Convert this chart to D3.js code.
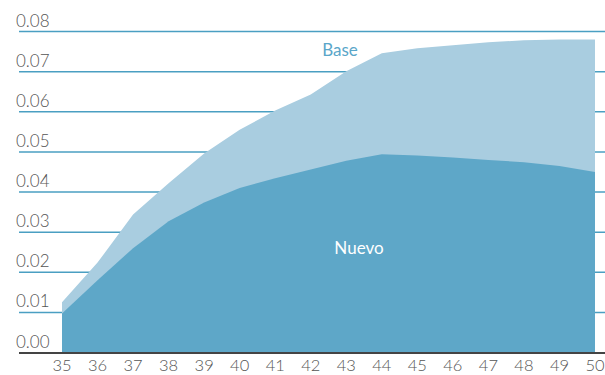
<!DOCTYPE html>
<html><head><meta charset="utf-8">
<script src="https://cdn.jsdelivr.net/npm/d3@7"></script>
<style>body{margin:0;background:#fff}svg{display:block}text{font-family:Lato,"Open Sans",sans-serif}</style>
</head><body><svg id="c" width="605" height="375"></svg>
<script>
const years = [35,36,37,38,39,40,41,42,43,44,45,46,47,48,49,50];
const baseValues = [0.0125,0.0224,0.0344,0.0422,0.0496,0.0555,0.0603,0.0643,0.0701,0.0746,0.0758,0.0766,0.0773,0.0778,0.0780,0.0780];
const nuevoValues = [0.0097,0.0180,0.0260,0.0327,0.0374,0.0410,0.0434,0.0456,0.0478,0.0494,0.0491,0.0486,0.0480,0.0474,0.0465,0.0450];
const yTicks = [0,0.01,0.02,0.03,0.04,0.05,0.06,0.07,0.08];
const seriesLabels = ["Base","Nuevo"];

const svg = d3.select("#c");
const x = d3.scaleLinear().domain([35,50]).range([62,595]);
const y = d3.scaleLinear().domain([0,0.08]).range([352.5,31.5]);

// gridlines
svg.append("g").selectAll("line").data(yTicks.filter(d=>d>0)).join("line")
  .attr("x1",19).attr("x2",605).attr("y1",d=>y(d)).attr("y2",d=>y(d))
  .attr("stroke","#4a9fc2").attr("stroke-width",1.5);

const area = vals => d3.area().x((d,i)=>x(years[i])).y0(y(0)).y1(d=>y(d))(vals);
svg.append("path").attr("d",area(baseValues)).attr("fill","#a9cde0");
svg.append("path").attr("d",area(nuevoValues)).attr("fill","#5ea7c8");

// baseline
svg.append("line").attr("x1",19).attr("x2",605).attr("y1",y(0)+0.5).attr("y2",y(0)+0.5)
  .attr("stroke","#444").attr("stroke-width",2);

// y labels
svg.append("g").selectAll("text").data(yTicks).join("text")
  .attr("x",16).attr("y",d=>y(d)-5).attr("font-size",17).attr("font-weight",300)
  .attr("fill","#555").text(d=>d3.format(".2f")(d));

// x labels
svg.append("g").selectAll("text").data(years).join("text")
  .attr("x",d=>x(d)).attr("y",371).attr("text-anchor","middle").attr("font-size",16.5).attr("font-weight",300)
  .attr("fill","#555").text(d=>d);

svg.append("text").attr("x",340).attr("y",56).attr("text-anchor","middle").attr("font-size",17)
  .attr("fill","#5aa6c9").text(seriesLabels[0]);
svg.append("text").attr("x",359).attr("y",254).attr("text-anchor","middle").attr("font-size",17)
  .attr("fill","#fff").text(seriesLabels[1]);
</script></body></html>
